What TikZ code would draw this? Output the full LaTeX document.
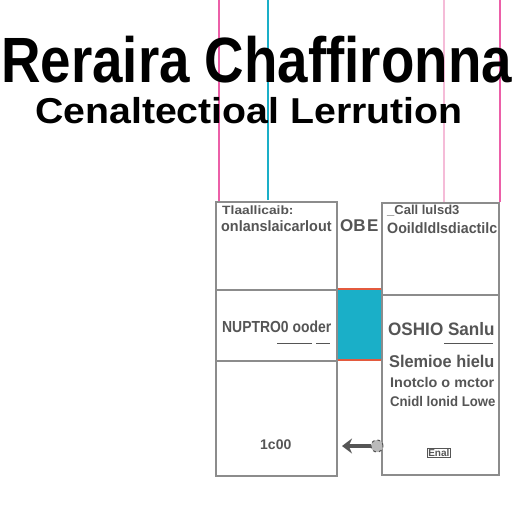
\documentclass[tikz,border=0pt]{standalone}
\usepackage{fontspec}
\setmainfont{Liberation Sans}
\usepackage{tikz}
\usetikzlibrary{calc,arrows.meta}
\definecolor{rose}{HTML}{EC5FA8}
\definecolor{rosepale}{HTML}{F5BCD8}
\definecolor{cyan2}{HTML}{1AAFC8}
\definecolor{rouge2}{HTML}{E35A3E}
\definecolor{gris}{HTML}{8C8C8C}
\definecolor{texte}{HTML}{555555}
\newcommand{\taille}[1]{\fontsize{#1}{#1}\selectfont}
\tikzset{
  cadre/.style={draw=gris,line width=1.4pt},
  txt/.style={text=texte,font=\bfseries,inner sep=0pt,anchor=west},
}

\begin{document}
\begin{tikzpicture}[x=1pt,y=-1pt,>=stealth]

        % Fond et cadre de la page
        \useasboundingbox[fill=white] (0,0) rectangle (512,512);

        % Traits verticaux de couleur
        \coordinate (P1) at (219,0);
        \coordinate (P2) at (268,0);
        \coordinate (P3) at (444,0);
        \coordinate (P4) at (500,0);
        \draw[rose,line width=1.6pt] (P1) -- (219,202);
        \draw[cyan2,line width=1.4pt] (P2) -- (268,200);
        \draw[rosepale,line width=1.6pt] (P3) -- (444,202);
        \draw[rose,line width=1.4pt] (P4) -- (500,202);

        % Titres
        \node[inner sep=0pt,anchor=base west,xscale=0.855,font=\bfseries\taille{64}] (titre) at (1,82) {Reraira Chaffironna};
        \node[inner sep=0pt,anchor=base west,xscale=1.09,font=\bfseries\taille{36}] (soustitre) at (35,123) {Cenaltectioal Lerrution};

        % Case cyan du milieu
        \draw[fill=cyan2,draw=rouge2,line width=1.2pt] (337,289) rectangle (382,360);

        % Cadre de gauche
        \draw[cadre] (216,202) rectangle (337,476);
        \draw[cadre] (216,290) -- (337,290);
        \draw[cadre] (216,361) -- (337,361);

        % Cadre de droite
        \draw[cadre] (382,203) rectangle (499,475);
        \draw[cadre] (382,295) -- (499,295);

        % Textes du cadre de gauche
        \node[txt,xscale=1.15] (g1) at (222,210) {\taille{12}Tlaallicaib:};
        \node[txt,xscale=0.96] (g2) at (221,226) {\taille{15}onlanslaicarlout};
        \node[txt,xscale=0.87] (g3) at (222,327) {\taille{16}NUPTRO0 ooder};
        \draw[texte,line width=0.5pt] (277,343) -- (312,343) (316,343) -- (330,343);
        \node[txt] (g4) at (260,445) {\taille{14}1c00};

        % Icones du milieu
        \node[txt] (ic1) at (340,226) {\taille{17}OB};
        \node[txt] (ic2) at (367,226) {\taille{17}E};

        % Textes du cadre de droite
        \node[txt] (d1) at (387,211) {\taille{13}\_Call lulsd3};
        \node[txt,xscale=0.95] (d2) at (387,228) {\taille{15}Ooildldlsdiactilc};
        \node[txt,xscale=0.95] (d3) at (388,329) {\taille{18}OSHIO Sanlu};
        \draw[texte,line width=0.5pt] (444,343) -- (493,343);
        \node[txt,xscale=0.96] (d4) at (389,361) {\taille{17}Slemioe hielu};
        \node[txt,xscale=1.03] (d5) at (390,382) {\taille{14}Inotclo o mctor};
        \node[txt,xscale=0.94] (d6) at (390,401) {\taille{14}Cnidl lonid Lowe};
        \node[txt,draw=texte,line width=0.6pt,inner sep=1pt] (d7) at (427,453) {\taille{10}Enal};

        % Fleche entre les deux cadres
        \node[circle,draw=texte,fill=gris!60,line width=1pt,minimum size=12pt,inner sep=0pt,dashed] (roue) at (377,446) {};
        \coordinate (bout) at (342,446);
        \draw[texte,line width=3.5pt,-{Stealth[length=10pt,width=15pt]}] (roue.west) -- (bout);

    \end{tikzpicture}
\end{document}
